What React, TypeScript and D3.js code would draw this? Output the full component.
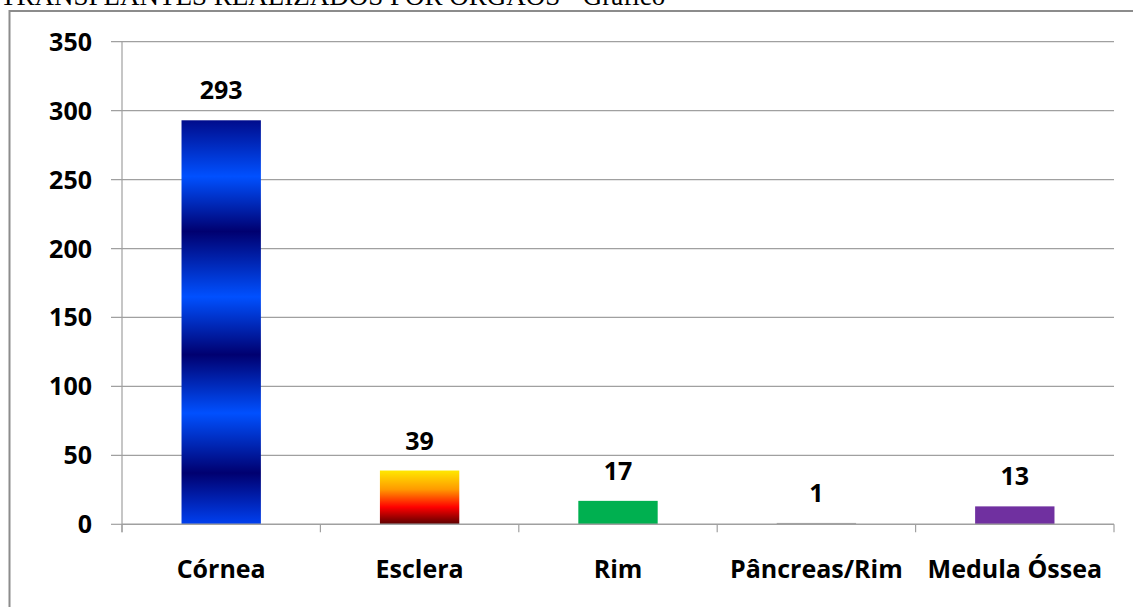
import React from "react";
import * as d3 from "d3";

const categories = ["Córnea", "Esclera", "Rim", "Pâncreas/Rim", "Medula Óssea"];
const values = [293, 39, 17, 1, 13];
const barFills = ["url(#gradCornea)", "url(#gradEsclera)", "#00b050", "#a6a6a6", "#7030a0"];
const yTicks = [0, 50, 100, 150, 200, 250, 300, 350];
const titleText = "TRANSPLANTES REALIZADOS POR ÓRGÃOS - Gráfico";

const W = 1133;
const H = 607;
const plotLeft = 122;
const plotRight = 1114;
const plotTop = 41.7;
const plotBottom = 524.3;

export default function App() {
  const x = d3
    .scaleBand<string>()
    .domain(categories)
    .range([plotLeft, plotRight])
    .paddingInner(0.6)
    .paddingOuter(0.3);
  const y = d3.scaleLinear().domain([0, 350]).range([plotBottom, plotTop]);
  const step = x.step();
  const boundaries = d3.range(categories.length + 1).map((i) => plotLeft + i * step);
  const font = "'Open Sans', sans-serif";

  return (
    <svg
      width={W}
      height={H}
      style={{ position: "absolute", left: 0, top: 0, background: "#fff" }}
    >
      <defs>
        <linearGradient id="gradCornea" x1="0" y1="0" x2="0" y2="1">
          <stop offset="0" stopColor="#000c8c" />
          <stop offset="0.139" stopColor="#0050ff" />
          <stop offset="0.275" stopColor="#000070" />
          <stop offset="0.437" stopColor="#0050ff" />
          <stop offset="0.58" stopColor="#000070" />
          <stop offset="0.725" stopColor="#0050ff" />
          <stop offset="0.873" stopColor="#000070" />
          <stop offset="1" stopColor="#0040f0" />
        </linearGradient>
        <linearGradient id="gradEsclera" x1="0" y1="0" x2="0" y2="1">
          <stop offset="0" stopColor="#ffe800" />
          <stop offset="0.35" stopColor="#ff9a00" />
          <stop offset="0.68" stopColor="#ff0000" />
          <stop offset="1" stopColor="#5a0000" />
        </linearGradient>
      </defs>

      <text
        x={0}
        y={5}
        fontFamily="'Liberation Serif', 'Times New Roman', serif"
        fontSize={27}
        fill="#000"
      >
        {titleText}
      </text>

      {/* frame */}
      <line x1={9.5} x2={W + 5} y1={11} y2={11} stroke="#8c8c8c" strokeWidth={2} />
      <line x1={9.5} x2={9.5} y1={10} y2={H + 5} stroke="#8c8c8c" strokeWidth={2} />

      {/* gridlines */}
      {yTicks.map((t) => (
        <g key={t}>
          <line
            x1={plotLeft - 11}
            x2={t === 0 ? plotLeft : plotRight}
            y1={y(t)}
            y2={y(t)}
            stroke="#a0a0a0"
            strokeWidth={1.2}
          />
          <text
            x={92}
            y={y(t)}
            dy="0.36em"
            textAnchor="end"
            fontFamily={font}
            fontWeight={700}
            fontSize={25}
            fill="#000"
          >
            {t}
          </text>
        </g>
      ))}

      {/* bars */}
      {categories.map((c, i) => (
        <rect
          key={c}
          x={x(c)}
          y={y(values[i])}
          width={x.bandwidth()}
          height={plotBottom - y(values[i])}
          fill={barFills[i]}
        />
      ))}

      {/* axes */}
      <line x1={plotLeft} x2={plotLeft} y1={plotTop} y2={plotBottom + 8} stroke="#a0a0a0" strokeWidth={1.2} />
      <line x1={plotLeft} x2={plotRight} y1={plotBottom} y2={plotBottom} stroke="#a0a0a0" strokeWidth={1.5} />
      {boundaries.map((bx, i) => (
        <line key={i} x1={bx} x2={bx} y1={plotBottom} y2={plotBottom + 8} stroke="#a0a0a0" strokeWidth={1.2} />
      ))}

      {/* value labels */}
      {categories.map((c, i) => (
        <text
          key={c}
          x={(x(c) as number) + x.bandwidth() / 2}
          y={y(values[i]) - 21}
          textAnchor="middle"
          fontFamily={font}
          fontWeight={700}
          fontSize={25}
          fill="#000"
        >
          {values[i]}
        </text>
      ))}

      {/* category labels */}
      {categories.map((c) => (
        <text
          key={c}
          x={(x(c) as number) + x.bandwidth() / 2}
          y={578}
          textAnchor="middle"
          fontFamily={font}
          fontWeight={700}
          fontSize={25}
          fill="#000"
        >
          {c}
        </text>
      ))}
    </svg>
  );
}
